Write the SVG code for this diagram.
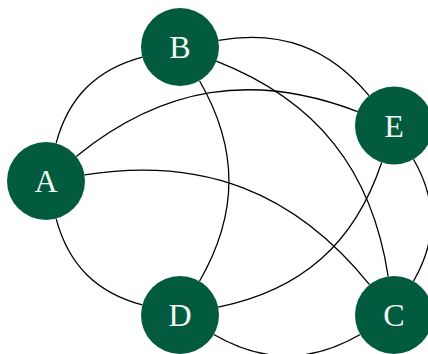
<svg xmlns="http://www.w3.org/2000/svg" width="428" height="354" viewBox="0 0 428 354">
<style>
.edge{fill:none;stroke:#000;stroke-width:1.3}
.node circle{fill:#035b3f}
.node text{fill:#f4f8f5;font-family:"Liberation Serif","DejaVu Serif",serif;font-size:32px;text-anchor:middle}
</style>
<rect width="428" height="354" fill="#fff"/>
<g id="edges">
<path class="edge" d="M56.09,143.33 C68.45,97.21 96.21,69.45 142.33,57.09"/>
<path class="edge" d="M76.29,156.43 C162.89,86.18 253.42,71.71 357.57,111.56"/>
<path class="edge" d="M84.53,174.94 C202.62,156.36 294.37,191.67 369.49,284.66"/>
<path class="edge" d="M142.33,304.91 C96.21,292.55 68.45,264.79 56.09,218.67"/>
<path class="edge" d="M199.5,80.77 C238.74,148.73 238.74,213.27 199.5,281.23"/>
<path class="edge" d="M218.42,40.32 C280.29,29.56 328.75,47.37 369,95.57"/>
<path class="edge" d="M216.31,61.22 C316.71,100.55 372.02,169.83 388.16,276.44"/>
<path class="edge" d="M381.64,162.49 C354.57,243.55 301.94,290.12 218.21,307.2"/>
<path class="edge" d="M413.5,159.27 C437.37,200.62 437.37,239.88 413.5,281.23"/>
<path class="edge" d="M360.23,334.5 C310.57,363.17 263.43,363.17 213.77,334.5"/>
</g>
<g id="A" class="node"><circle cx="46" cy="181" r="39"/><text x="46" y="192">A</text></g>
<g id="B" class="node"><circle cx="180" cy="47" r="39"/><text x="180" y="58">B</text></g>
<g id="C" class="node"><circle cx="394" cy="315" r="39"/><text x="394" y="326">C</text></g>
<g id="D" class="node"><circle cx="180" cy="315" r="39"/><text x="180" y="326">D</text></g>
<g id="E" class="node"><circle cx="394" cy="125.5" r="39"/><text x="394" y="136.5">E</text></g>
</svg>
